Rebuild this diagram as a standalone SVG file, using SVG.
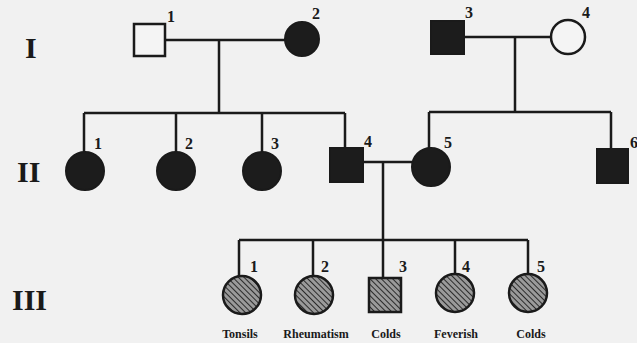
<svg xmlns="http://www.w3.org/2000/svg" width="637" height="343" viewBox="0 0 637 343">
<style>
.ln{stroke:#1a1a1a;stroke-width:2.5;fill:none}
.open{fill:#f4f4f4;stroke:#1a1a1a;stroke-width:2.5}
.aff{fill:#1c1c1c;stroke:#1a1a1a;stroke-width:2}
.hat{fill:url(#hatch);stroke:#1a1a1a;stroke-width:2.5}
.num{font-family:"Liberation Serif",serif;font-weight:bold;font-size:16px;fill:#1a1a1a}
.gen{font-family:"Liberation Serif",serif;font-weight:bold;font-size:30px;fill:#1a1a1a}
.cap{font-family:"Liberation Serif",serif;font-weight:bold;font-size:12px;fill:#1a1a1a;text-anchor:middle}
</style>
<defs>
<pattern id="hatch" patternUnits="userSpaceOnUse" width="4" height="4" patternTransform="rotate(-45)">
<rect width="4" height="4" fill="#9a9a9a"/>
<line x1="0" y1="0" x2="0" y2="4" stroke="#2a2a2a" stroke-width="2"/>
</pattern>
</defs>
<rect width="637" height="343" fill="#f1f1f1"/>
<g id="generations">
<text class="gen" x="25" y="58">I</text>
<text class="gen" x="17" y="182">II</text>
<text class="gen" x="12" y="310">III</text>
</g>
<g id="connectors">
<path class="ln" d="M165 40H285M219 40V113M84 113H345M84 113V152M176 113V152M262 113V152M345 113V148"/>
<path class="ln" d="M464 37H551M515 37V112M429 112H611M429 112V149M611 112V149"/>
<path class="ln" d="M363 162H412M383 162V240M239 240H528M239 240V276M313 240V276M383 240V278M455 240V274M528 240V274"/>
</g>
<g id="I-1"><rect class="open" x="134" y="24" width="31" height="32"/><text class="num" x="167" y="22">1</text></g>
<g id="I-2"><circle class="aff" cx="302" cy="39" r="17"/><text class="num" x="312" y="19">2</text></g>
<g id="I-3"><rect class="aff" x="431" y="21" width="33" height="33"/><text class="num" x="465" y="18">3</text></g>
<g id="I-4"><circle class="open" cx="568" cy="37" r="17"/><text class="num" x="582" y="18">4</text></g>
<g id="II-1"><circle class="aff" cx="85" cy="171" r="19"/><text class="num" x="94" y="149">1</text></g>
<g id="II-2"><circle class="aff" cx="176" cy="171" r="19"/><text class="num" x="185" y="149">2</text></g>
<g id="II-3"><circle class="aff" cx="262" cy="171" r="19"/><text class="num" x="271" y="149">3</text></g>
<g id="II-4"><rect class="aff" x="330" y="148" width="33" height="34"/><text class="num" x="364" y="147">4</text></g>
<g id="II-5"><circle class="aff" cx="431" cy="167" r="19"/><text class="num" x="444" y="148">5</text></g>
<g id="II-6"><rect class="aff" x="597" y="149" width="31" height="34"/><text class="num" x="630" y="148">6</text></g>
<g id="III-1"><circle class="hat" cx="242" cy="295" r="19"/><text class="num" x="250" y="272">1</text><text class="cap" x="240" y="338">Tonsils</text></g>
<g id="III-2"><circle class="hat" cx="314" cy="295" r="19"/><text class="num" x="321" y="272">2</text><text class="cap" x="316" y="338">Rheumatism</text></g>
<g id="III-3"><rect class="hat" x="369" y="278" width="32" height="34"/><text class="num" x="399" y="272">3</text><text class="cap" x="386" y="338">Colds</text></g>
<g id="III-4"><circle class="hat" cx="455" cy="293" r="19"/><text class="num" x="462" y="272">4</text><text class="cap" x="456" y="338">Feverish</text></g>
<g id="III-5"><circle class="hat" cx="528" cy="293" r="19"/><text class="num" x="537" y="272">5</text><text class="cap" x="531" y="338">Colds</text></g>
</svg>
